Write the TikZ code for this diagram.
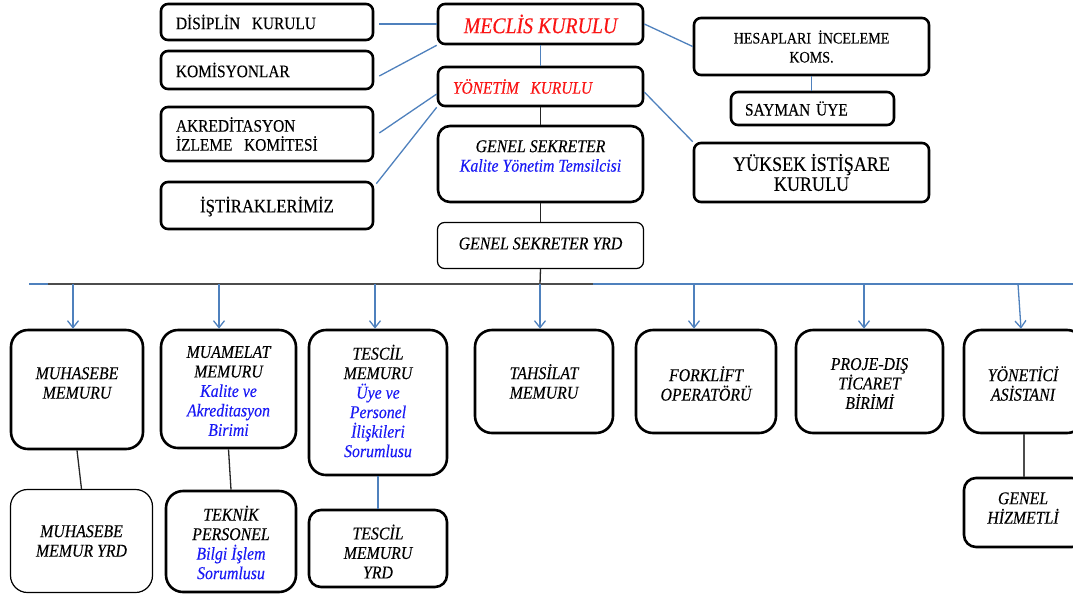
\documentclass[tikz,border=0pt]{standalone}
\usepackage{fontspec}
\setmainfont{Liberation Serif}[FakeStretch=0.88,FakeBold=0.25]
\usetikzlibrary{arrows.meta}
\definecolor{cblue}{RGB}{79,129,189}
\definecolor{tblue}{RGB}{25,25,245}
\definecolor{tred}{RGB}{250,20,20}
\begin{document}
\begin{tikzpicture}[x=1pt,y=-1pt,
 box/.style={draw=black, line width=2.6pt, rounded corners=7pt, inner sep=0pt, fill=white},
 bbox/.style={box, rounded corners=17pt},
 thinb/.style={line width=1.2pt},
 lab/.style={align=center, inner sep=0pt},
 up/.style={font=\fontsize{17.5}{19}\selectfont},
 it/.style={font=\fontsize{18}{19.5}\selectfont\itshape},
 bl/.style={draw=cblue, line width=1.3pt},
 bk/.style={draw=black!85, line width=1.3pt},
 arr/.style={bl, -{Straight Barb[length=7pt,width=11pt,line width=1.3pt]}},
]
\clip (0,0) rectangle (1073,595);
\fill[white] (0,0) rectangle (1073,595);

% ---- left column
\node[box, minimum width=212pt, minimum height=36pt,
  label={[lab,up,text width=182pt,align=left]center:{DİSİPLİN\ \ KURULU}}] (dis) at (267,22) {};
\node[box, minimum width=212pt, minimum height=38pt,
  label={[lab,up,text width=182pt,align=left]center:{KOMİSYONLAR}}] (kom) at (267,70) {};
\node[box, minimum width=212pt, minimum height=54pt,
  label={[lab,up,text width=182pt,align=left]center:{AKREDİTASYON\\İZLEME\ \ KOMİTESİ}}] (akr) at (267,134) {};
\node[box, minimum width=212pt, minimum height=47pt,
  label={[lab,font=\fontsize{19}{20}\selectfont,yshift=-1pt]center:{İŞTİRAKLERİMİZ}}] (ist) at (267,205.5) {};

% ---- centre column
\node[box, minimum width=205pt, minimum height=40pt,
  label={[lab,font=\fontsize{22.5}{24}\selectfont\itshape,text=tred]center:{MECLİS KURULU}}] (mec) at (540.5,24) {};
\node[box, minimum width=205pt, minimum height=39pt,
  label={[lab,font=\fontsize{17.5}{19}\selectfont\itshape,text=tred,text width=175pt,align=left]center:{YÖNETİM\ \ KURULU}}] (yon) at (540.5,86.5) {};
\node[box, rounded corners=12pt, minimum width=205pt, minimum height=76pt,
  label={[lab,it,yshift=8pt]center:{GENEL SEKRETER\\\textcolor{tblue}{Kalite Yönetim Temsilcisi}}}] (gs) at (540.5,164) {};
\node[box, thinb, minimum width=206pt, minimum height=46pt,
  label={[lab,it,yshift=2pt]center:{GENEL SEKRETER YRD}}] (gsy) at (540.5,245.5) {};

% ---- right column
\node[box, minimum width=235pt, minimum height=57pt,
  label={[lab,font=\fontsize{16}{19}\selectfont]center:{HESAPLARI\ \ İNCELEME\\KOMS.}}] (hes) at (811.5,46.5) {};
\node[box, minimum width=163pt, minimum height=33pt,
  label={[lab,up,text width=135pt,align=left]center:{SAYMAN ÜYE}}] (say) at (812.5,108.5) {};
\node[box, minimum width=235pt, minimum height=59pt,
  label={[lab,font=\fontsize{20.5}{20}\selectfont]center:{YÜKSEK İSTİŞARE\\KURULU}}] (yuk) at (811.5,172.5) {};

% ---- bottom row
\node[bbox, minimum width=132pt, minimum height=119pt,
  label={[lab,it,yshift=6.5pt]center:{MUHASEBE\\MEMURU}}] (muh) at (77,389.5) {};
\node[bbox, minimum width=135pt, minimum height=118pt,
  label={[lab,it,yshift=-2pt]center:{MUAMELAT\\MEMURU\\\textcolor{tblue}{Kalite ve}\\\textcolor{tblue}{Akreditasyon}\\\textcolor{tblue}{Birimi}}}] (mua) at (228.5,389) {};
\node[bbox, minimum width=138pt, minimum height=145pt,
  label={[lab,it,yshift=1.5pt]center:{TESCİL\\MEMURU\\\textcolor{tblue}{Üye ve}\\\textcolor{tblue}{Personel}\\\textcolor{tblue}{İlişkileri}\\\textcolor{tblue}{Sorumlusu}}}] (tes) at (378,402.5) {};
\node[bbox, minimum width=138pt, minimum height=103pt,
  label={[lab,it]center:{TAHSİLAT\\MEMURU}}] (tah) at (544,381.5) {};
\node[bbox, minimum width=140pt, minimum height=103pt,
  label={[lab,it,yshift=-2pt]center:{FORKLİFT\\OPERATÖRÜ}}] (frk) at (706,381.5) {};
\node[bbox, minimum width=147pt, minimum height=103pt,
  label={[lab,it,yshift=-2pt]center:{PROJE-DIŞ\\TİCARET\\BİRİMİ}}] (prj) at (869.5,381.5) {};
\node[bbox, minimum width=120pt, minimum height=103pt,
  label={[lab,it,yshift=-2pt,xshift=-1pt]center:{YÖNETİCİ\\ASİSTANI}}] (yas) at (1024,381.5) {};

\node[bbox, thinb, minimum width=142pt, minimum height=103pt,
  label={[lab,it]center:{MUHASEBE\\MEMUR YRD}}] (muhy) at (81.5,541) {};
\node[bbox, minimum width=130pt, minimum height=101pt,
  label={[lab,it,yshift=-1pt]center:{TEKNİK\\PERSONEL\\\textcolor{tblue}{Bilgi İşlem}\\\textcolor{tblue}{Sorumlusu}}}] (tek) at (231,541.5) {};
\node[box, rounded corners=12pt, minimum width=138pt, minimum height=77pt,
  label={[lab,it,yshift=-3pt]center:{TESCİL\\MEMURU\\YRD}}] (tesy) at (378,548.5) {};
\node[box, rounded corners=12pt, minimum width=120pt, minimum height=69pt,
  label={[lab,it,yshift=4.5pt,xshift=-1pt]center:{GENEL\\HİZMETLİ}}] (ghz) at (1024,512.5) {};

% ---- top connectors
\draw[bl] (dis.east) ++(5,2) -- (mec.west);
\draw[bl] (kom.east) ++(5,6) -- (mec.south west);
\draw[bl] (akr.east) ++(5,-1) -- ([yshift=-7.5pt]yon.west);
\draw[bl] (ist.north east) ++(2,3) -- (yon.south west);
\draw[bl] (mec.south) -- (yon.north);
\draw[bk] (yon.south) -- (gs.north);
\draw[bk] (gs.south) -- (gsy.north);
\draw[bl] (mec.east) -- (hes.west);
\draw[bl] ([yshift=-5.5pt]yon.east) -- (yuk.north west);
\draw[bl] (hes.south) -- (hes.south |- say.north);

% ---- bus
\coordinate (bL) at (29,284);
\coordinate (bG) at (48,284);
\coordinate (bB) at (593,284);
\coordinate (bR) at (1073,284);
\coordinate (b1) at (73,284);
\coordinate (b2) at (219,284);
\coordinate (b3) at (375,284);
\coordinate (b4) at (540,284);
\coordinate (b5) at (694,284);
\coordinate (b6) at (864,284);
\coordinate (b7) at (1018,284);
\draw[bk] (gsy.south) -- (b4);
\draw[draw=cblue, line width=2pt] (bL) -- (bG);
\draw[draw=black!70, line width=2pt] (bG) -- (bB);
\draw[draw=cblue, line width=2pt] (bB) -- (bR);
\draw[arr] (b1) -- (b1 |- muh.north);
\draw[arr] (b2) -- (b2 |- mua.north);
\draw[arr] (b3) -- (b3 |- tes.north);
\draw[arr] (b4) -- (b4 |- tah.north);
\draw[arr] (b5) -- (b5 |- frk.north);
\draw[arr] (b6) -- (b6 |- prj.north);
\draw[arr] (b7) -- ([xshift=-3pt]yas.north);

% ---- lower connectors
\draw[bk] (muh.south) -- (muhy.north);
\draw[bk] (mua.south) -- (tek.north);
\draw[bl] (tes.south) -- (tesy.north);
\draw[draw=black!70, line width=1.3pt] (yas.south) -- (ghz.north);
\end{tikzpicture}
\end{document}
